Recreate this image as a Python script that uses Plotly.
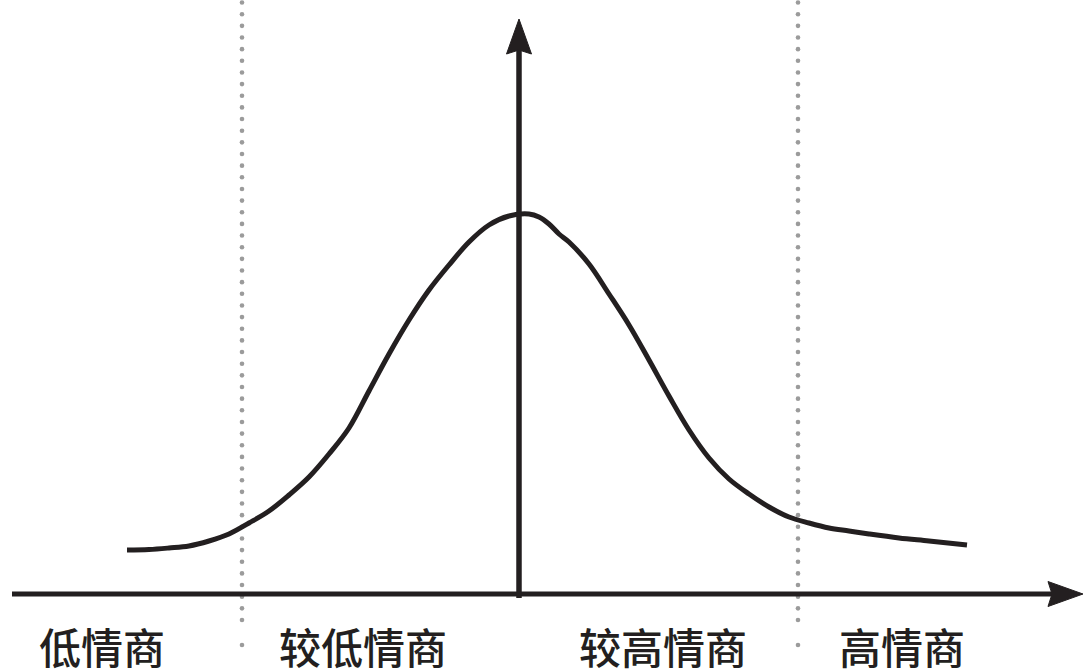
import numpy as np
import plotly.graph_objects as go

# ---- data (relative to the axis origin; x to the right, h upward) ----
curve_x = [-392, -370, -350, -330, -310, -290, -270, -250, -230, -210, -190, -170,
           -150, -130, -110, -90, -70, -50, -30, -10, 10,
           20, 30, 40, 50, 70, 90, 110, 130, 150, 170, 190, 210, 230, 250, 270,
           290, 310, 330, 350, 380, 410, 448]
curve_h = [44, 44.5, 46, 48, 53, 60, 71, 83, 99, 117, 140, 166,
           203, 240, 274, 304, 329, 352, 369, 378, 380,
           377, 370, 360, 352, 330, 300, 269, 234, 198, 164, 136, 115, 100, 87, 77,
           71, 66, 63, 60, 56, 53, 49]

boundaries = [-277, 279]          # dotted dividers
labels = ["低情商", "较低情商", "较高情商", "高情商"]
label_x = [-417, -156, 144, 383]

# axis extents
x_axis_start, x_axis_tip = -507, 564
y_axis_start, y_axis_tip = -4, 575

INK = "#231f20"
GREY = "#9b9b9b"

fig = go.Figure()

# dotted dividers (round dots)
dot_step = 11.65
for bx in boundaries:
    ys = list(np.arange(-26, 600, dot_step)) + [-51]
    fig.add_trace(go.Scatter(x=[bx] * len(ys), y=ys, mode="markers",
                             marker=dict(size=4.6, color=GREY, line=dict(width=0)),
                             hoverinfo="skip", showlegend=False))

# curve
fig.add_trace(go.Scatter(x=curve_x, y=curve_h, mode="lines",
                         line=dict(color=INK, width=5, shape="spline", smoothing=1.0),
                         hoverinfo="skip", showlegend=False))

shapes = []
alen, ahw, notch = 35, 12.5, 4
# horizontal axis line + arrowhead
shapes.append(dict(type="line", xref="x", yref="y", x0=x_axis_start, y0=0,
                   x1=x_axis_tip - alen + 6, y1=0, line=dict(color=INK, width=5)))
t = x_axis_tip
shapes.append(dict(type="path", xref="x", yref="y",
                   path=f"M {t},0 L {t-alen},{ahw} L {t-alen+notch},0 L {t-alen},{-ahw} Z",
                   fillcolor=INK, line=dict(color=INK, width=1)))
# vertical axis line + arrowhead
shapes.append(dict(type="line", xref="x", yref="y", x0=0, y0=y_axis_start,
                   x1=0, y1=y_axis_tip - alen + 6, line=dict(color=INK, width=5.5)))
t = y_axis_tip
shapes.append(dict(type="path", xref="x", yref="y",
                   path=f"M 0,{t} L {ahw},{t-alen} L 0,{t-alen+notch} L {-ahw},{t-alen} Z",
                   fillcolor=INK, line=dict(color=INK, width=1)))

annotations = []
for lx, txt in zip(label_x, labels):
    annotations.append(dict(x=lx, y=-51, xref="x", yref="y", text=txt,
                            showarrow=False, xanchor="center", yanchor="middle",
                            font=dict(family="Noto Sans CJK SC", size=42, color=INK,
                                      weight=500)))

fig.update_layout(
    width=1087, height=671, autosize=False,
    margin=dict(l=0, r=0, t=0, b=0),
    paper_bgcolor="white", plot_bgcolor="white",
    xaxis=dict(range=[-519, 568], visible=False, fixedrange=True),
    yaxis=dict(range=[-77, 594], visible=False, fixedrange=True),
    shapes=shapes, annotations=annotations,
)

fig.write_html("out.html", post_script="document.body.style.margin='0';",
               config={"displayModeBar": False})
